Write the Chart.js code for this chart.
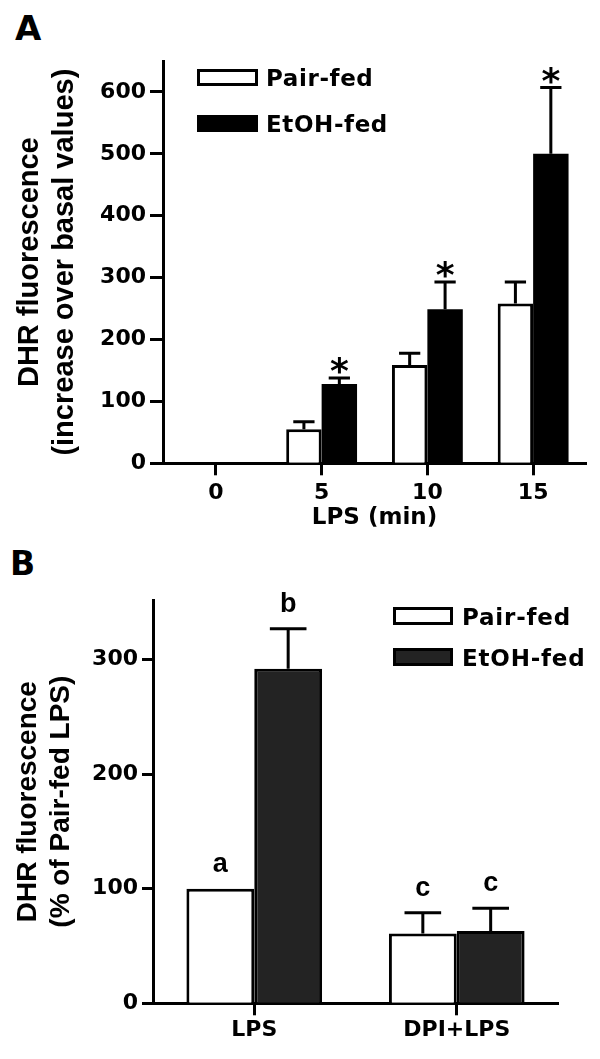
<!DOCTYPE html>
<html>
<head>
<meta charset="utf-8">
<script src="https://cdn.jsdelivr.net/npm/chart.js@4.4.1/dist/chart.umd.min.js"></script>
<style>
  body { margin: 0; background: #fff; }
  #wrap { position: relative; width: 600px; height: 1059px; }
  canvas { position: absolute; left: 0; }
  .panel { position: absolute; font: bold 34px "DejaVu Sans"; line-height: 34px; color: #000; }
</style>
</head>
<body>
<div id="wrap">
  <div class="panel" style="left:15px;top:11px;">A</div>
  <div class="panel" style="left:10px;top:547px;font-size:33px;line-height:33px;">B</div>
  <canvas id="chartA" width="600" height="545" style="top:0"></canvas>
  <canvas id="chartB" width="600" height="529" style="top:530px"></canvas>
</div>
<script>
// Panel A - LPS time course
const timeLabels = ['0', '5', '10', '15'];
const pairA = [0, 55, 159, 258];
const pairAErr = [0, 12, 19, 35];
const etohA = [0, 128, 249, 500];
const etohAErr = [0, 10, 44, 107];
const pairAMarks = ['', '', '', ''];
const etohAMarks = ['', '*', '*', '*'];
const yTicksA = [0, 100, 200, 300, 400, 500, 600];

// Panel B - DPI inhibition
const groupLabels = ['LPS', 'DPI+LPS'];
const pairB = [100, 61];
const pairBErr = [0, 18];
const etohB = [292, 63];
const etohBErr = [35, 20];
const pairBMarks = ['a', 'c'];
const etohBMarks = ['b', 'c'];
const yTicksB = [0, 100, 200, 300];

Chart.defaults.font.family = "'DejaVu Sans'";
Chart.defaults.font.weight = 'bold';
Chart.defaults.color = '#000';

// error bars (up only) plus significance marks above them
const errorBars = {
    id: 'errorBars',
    afterDatasetsDraw(chart, args, opts) {
        const ctx = chart.ctx;
        const yScale = chart.scales.y;
        ctx.save();
        chart.data.datasets.forEach((ds, i) => {
            chart.getDatasetMeta(i).data.forEach((bar, j) => {
                const v = ds.data[j];
                const e = ds.errors[j];
                let top = bar.y;
                if (e > 0) {
                    const yt = yScale.getPixelForValue(v + e);
                    const half = bar.width * opts.capRatio / 2;
                    ctx.strokeStyle = '#000';
                    ctx.lineWidth = opts.lineWidth;
                    ctx.beginPath();
                    ctx.moveTo(bar.x, bar.y);
                    ctx.lineTo(bar.x, yt);
                    ctx.moveTo(bar.x - half, yt);
                    ctx.lineTo(bar.x + half, yt);
                    ctx.stroke();
                    top = yt;
                }
                const mark = ds.marks[j];
                if (mark) {
                    ctx.font = opts.markFont;
                    ctx.textAlign = 'center';
                    ctx.textBaseline = 'alphabetic';
                    ctx.fillStyle = '#000';
                    const m = ctx.measureText(mark);
                    ctx.fillText(mark, bar.x, top - opts.markGap - m.actualBoundingBoxDescent);
                }
            });
        });
        ctx.restore();
    }
};

// boxed legend drawn inside the plot
const boxLegend = {
    id: 'boxLegend',
    afterDraw(chart, args, opts) {
        const ctx = chart.ctx;
        ctx.save();
        ctx.font = opts.font;
        ctx.letterSpacing = opts.spacing;
        ctx.textAlign = 'left';
        ctx.textBaseline = 'alphabetic';
        chart.data.datasets.forEach((ds, i) => {
            const y = opts.y + i * opts.rowGap;
            ctx.fillStyle = ds.backgroundColor;
            ctx.fillRect(opts.x, y, opts.boxW, opts.boxH);
            ctx.strokeStyle = ds.borderColor;
            ctx.lineWidth = 3;
            ctx.strokeRect(opts.x + 1.5, y + 1.5, opts.boxW - 3, opts.boxH - 3);
            ctx.fillStyle = '#000';
            ctx.fillText(ds.label, opts.x + opts.boxW + opts.gap, y + opts.boxH);
        });
        ctx.restore();
    }
};

function axisTicks(list) {
    return function(scale) {
        scale.ticks = list.map(v => ({ value: v }));
    };
}

new Chart(document.getElementById('chartA'), {
    type: 'bar',
    data: {
        labels: timeLabels,
        datasets: [{
            label: 'Pair-fed',
            data: pairA,
            errors: pairAErr,
            marks: pairAMarks,
            backgroundColor: '#ffffff',
            borderColor: '#000000',
            borderWidth: 3,
            categoryPercentage: 0.67,
            barPercentage: 1
        }, {
            label: 'EtOH-fed',
            data: etohA,
            errors: etohAErr,
            marks: etohAMarks,
            backgroundColor: '#000000',
            borderColor: '#000000',
            borderWidth: 0,
            categoryPercentage: 0.67,
            barPercentage: 1
        }]
    },
    options: {
        responsive: false,
        animation: false,
        devicePixelRatio: 1,
        layout: { padding: { top: 61, right: 14, bottom: 0, left: 0 } },
        plugins: {
            legend: { display: false },
            tooltip: { enabled: false },
            errorBars: { capRatio: 0.6, lineWidth: 3, markGap: 4, markFont: "bold 36px 'DejaVu Sans'" },
            boxLegend: { x: 197, y: 69, rowGap: 46, boxW: 61, boxH: 17, gap: 8, spacing: '0.6px', font: "bold 23px 'DejaVu Sans'" }
        },
        scales: {
            x: {
                offset: true,
                grid: { offset: false, drawOnChartArea: false, tickLength: 12, tickWidth: 3, tickColor: '#000' },
                border: { color: '#000', width: 3 },
                ticks: { font: { size: 22 }, padding: 5, maxRotation: 0 },
                title: { display: true, text: 'LPS (min)', font: { size: 23 }, padding: { top: 0, bottom: 12.7 } },
                afterFit: s => { s.height = 545 - 463.3; }
            },
            y: {
                min: 0,
                max: 650,
                afterBuildTicks: axisTicks(yTicksA),
                grid: { drawOnChartArea: false, tickLength: 13, tickWidth: 3, tickColor: '#000' },
                border: { color: '#000', width: 3 },
                ticks: { font: { size: 22 }, padding: 4 },
                title: {
                    display: true,
                    text: ['DHR fluorescence', '(increase over basal values)'],
                    font: { family: "'Liberation Sans'", size: 29, lineHeight: 1.22 },
                    padding: { top: 12.4, bottom: 0 }
                },
                afterFit: s => { s.width = 163; }
            }
        }
    },
    plugins: [errorBars, boxLegend]
});

new Chart(document.getElementById('chartB'), {
    type: 'bar',
    data: {
        labels: groupLabels,
        datasets: [{
            label: 'Pair-fed',
            data: pairB,
            errors: pairBErr,
            marks: pairBMarks,
            backgroundColor: '#ffffff',
            borderColor: '#000000',
            borderWidth: 3,
            categoryPercentage: 0.67,
            barPercentage: 1
        }, {
            label: 'EtOH-fed',
            data: etohB,
            errors: etohBErr,
            marks: etohBMarks,
            backgroundColor: '#232323',
            borderColor: '#000000',
            borderWidth: 3,
            categoryPercentage: 0.67,
            barPercentage: 1
        }]
    },
    options: {
        responsive: false,
        animation: false,
        devicePixelRatio: 1,
        layout: { padding: { top: 70, right: 42, bottom: 0, left: 0 } },
        plugins: {
            legend: { display: false },
            tooltip: { enabled: false },
            errorBars: { capRatio: 0.54, lineWidth: 3, markGap: 17, markFont: "bold 27px 'Liberation Sans'" },
            boxLegend: { x: 393, y: 77, rowGap: 41, boxW: 60, boxH: 18, gap: 9, spacing: '0.8px', font: "bold 23px 'DejaVu Sans'" }
        },
        scales: {
            x: {
                offset: true,
                grid: { offset: false, drawOnChartArea: false, tickLength: 12, tickWidth: 3, tickColor: '#000' },
                border: { color: '#000', width: 3 },
                ticks: { font: { size: 22 }, padding: 2, maxRotation: 0 },
                afterFit: s => { s.height = 529 - 473.3; }
            },
            y: {
                min: 0,
                max: 352,
                afterBuildTicks: axisTicks(yTicksB),
                grid: { drawOnChartArea: false, tickLength: 11, tickWidth: 3, tickColor: '#000' },
                border: { color: '#000', width: 3 },
                ticks: { font: { size: 22 }, padding: 4 },
                title: {
                    display: true,
                    text: ['DHR fluorescence', '(% of Pair-fed LPS)'],
                    font: { family: "'Liberation Sans'", size: 28, lineHeight: 1.16 },
                    padding: { top: 12.5, bottom: 0 }
                },
                afterFit: s => { s.width = 153; }
            }
        }
    },
    plugins: [errorBars, boxLegend]
});
</script>
</body>
</html>
